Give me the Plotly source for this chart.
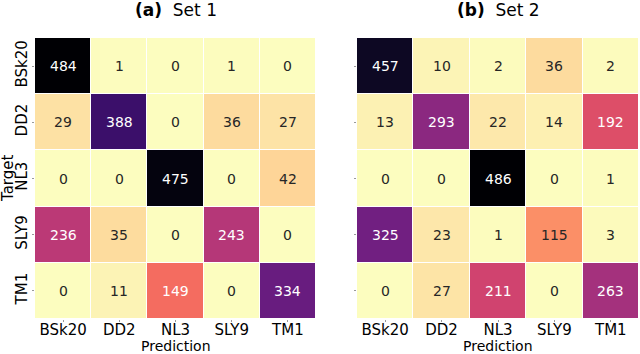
import plotly.graph_objects as go

categories = ["BSk20", "DD2", "NL3", "SLY9", "TM1"]
set1_values = [
    [484, 1, 0, 1, 0],
    [29, 388, 0, 36, 27],
    [0, 0, 475, 0, 42],
    [236, 35, 0, 243, 0],
    [0, 11, 149, 0, 334],
]
set2_values = [
    [457, 10, 2, 36, 2],
    [13, 293, 22, 14, 192],
    [0, 0, 486, 0, 1],
    [325, 23, 1, 115, 3],
    [0, 27, 211, 0, 263],
]
titles = ["<b>(a)</b>  Set 1", "<b>(b)</b>  Set 2"]
x_title = "Prediction"
y_title = "Target"

magma = ['#000004', '#180f3d', '#440f76', '#721f81', '#9e2f7f', '#cd4071',
         '#f1605d', '#fd9668', '#feca8d', '#fcfdbf']
magma_r = magma[::-1]
colorscale = [[i / (len(magma_r) - 1), c] for i, c in enumerate(magma_r)]


def hex2rgb(h):
    h = h.lstrip('#')
    return [int(h[i:i + 2], 16) / 255 for i in (0, 2, 4)]


def color_at(t):
    t = min(max(t, 0), 1)
    n = len(magma_r) - 1
    i = min(int(t * n), n - 1)
    f = t * n - i
    a, b = hex2rgb(magma_r[i]), hex2rgb(magma_r[i + 1])
    return [a[k] + (b[k] - a[k]) * f for k in range(3)]


def lum(rgb):
    out = []
    for c in rgb:
        out.append(c / 12.92 if c <= 0.03928 else ((c + 0.055) / 1.055) ** 2.4)
    return 0.2126 * out[0] + 0.7152 * out[1] + 0.0722 * out[2]


FONT = "DejaVu Sans"
fig = go.Figure()
W, H = 640, 354
domains_x = [[35 / W, 316 / W], [357 / W, 639 / W]]
dom_y = [1 - 319 / H, 1 - 38 / H]

annotations = []
for k, vals in enumerate([set1_values, set2_values]):
    xa = "x" if k == 0 else "x2"
    ya = "y" if k == 0 else "y2"
    vmax = max(max(r) for r in vals)
    fig.add_trace(go.Heatmap(
        z=vals, x=categories, y=categories, colorscale=colorscale,
        zmin=0, zmax=vmax, showscale=False, xgap=1, ygap=1,
        xaxis=xa, yaxis=ya, hoverinfo="skip"))
    for i, row in enumerate(vals):
        for j, v in enumerate(row):
            c = color_at(v / vmax)
            tc = "#262626" if lum(c) > 0.408 else "white"
            annotations.append(dict(x=categories[j], y=categories[i], xref=xa, yref=ya,
                                    text=str(v), showarrow=False,
                                    font=dict(family=FONT, size=14, color=tc)))
    annotations.append(dict(x=sum(domains_x[k]) / 2, y=1 - 10 / H, xref="paper", yref="paper",
                            xanchor="center", yanchor="middle",
                            text=titles[k], showarrow=False,
                            font=dict(family=FONT, size=17, color="black")))
    annotations.append(dict(x=sum(domains_x[k]) / 2, y=1 - 345.5 / H, xref="paper", yref="paper",
                            xanchor="center", yanchor="middle",
                            text=x_title, showarrow=False,
                            font=dict(family=FONT, size=14, color="black")))

annotations.append(dict(x=8 / W, y=1 - 178 / H, xref="paper", yref="paper",
                        xanchor="center", yanchor="middle",
                        text=y_title, showarrow=False, textangle=-90,
                        font=dict(family=FONT, size=15, color="black")))

axis_common = dict(showgrid=False, zeroline=False, showline=False,
                   ticks="outside", ticklen=2, tickcolor="#999",
                   tickfont=dict(family=FONT, size=15, color="black"))
fig.update_layout(
    width=W, height=H, margin=dict(l=0, r=0, t=0, b=0),
    paper_bgcolor="white", plot_bgcolor="white",
    xaxis=dict(domain=domains_x[0], anchor="y", ticklabelstandoff=-5, **axis_common),
    yaxis=dict(domain=dom_y, anchor="x", autorange="reversed", tickangle=-90,
               ticklabelstandoff=-1, **axis_common),
    xaxis2=dict(domain=domains_x[1], anchor="y2", ticklabelstandoff=-5, **axis_common),
    yaxis2=dict(domain=dom_y, anchor="x2", autorange="reversed", showticklabels=False, **axis_common),
    annotations=annotations,
)
fig.write_html("out.html", config={"displayModeBar": False},
               post_script="document.body.style.margin='0';")
